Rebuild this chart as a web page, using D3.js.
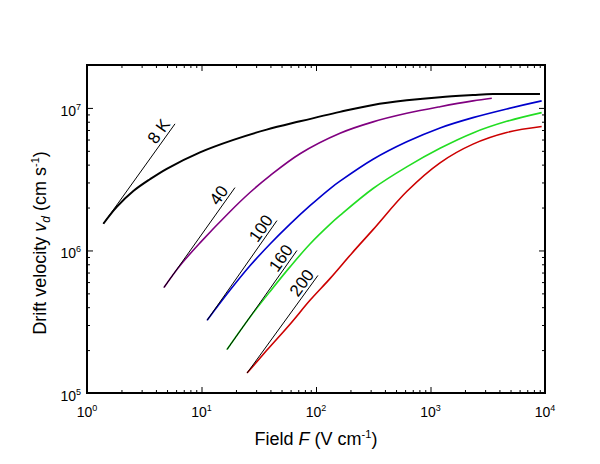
<!DOCTYPE html>
<html><head><meta charset="utf-8">
<script src="https://cdn.jsdelivr.net/npm/d3@7"></script>
<style>body{margin:0;background:#fff} text{font-family:Arial,"Liberation Sans",sans-serif;fill:#000}</style>
</head><body><svg id="c" width="600" height="464"></svg>
<script>
// ---- data ----
const seriesNames = ["8 K", "40", "100", "160", "200"];
const seriesColors = ["#000000", "#800080", "#0000cc", "#22dd22", "#cc0000"];

const field8 = [1.39, 1.82, 2.54, 3.55, 4.97, 9.7, 19.0, 37.1, 72.5, 162, 315, 620, 1211, 2350, 3515, 9040];
const vel8   = [1.54e6, 2.02e6, 2.61e6, 3.16e6, 3.74e6, 4.88e6, 5.97e6, 7.04e6, 8.05e6, 9.38e6, 1.05e7, 1.13e7, 1.19e7, 1.23e7, 1.25e7, 1.25e7];

const field40 = [4.7, 6.5, 9.7, 17.7, 26.5, 39.7, 72.5, 162, 315, 620, 1211, 2350, 3430];
const vel40   = [5.5e5, 7.85e5, 1.13e6, 1.87e6, 2.55e6, 3.35e6, 4.77e6, 6.64e6, 7.98e6, 9.16e6, 1.02e7, 1.12e7, 1.17e7];

const field100 = [11.2, 17.7, 26.5, 39.7, 59.3, 88.6, 133, 162, 315, 620, 1211, 2350, 4630, 9350];
const vel100   = [3.24e5, 5.25e5, 7.8e5, 1.11e6, 1.53e6, 2.06e6, 2.72e6, 3.06e6, 4.36e6, 5.78e6, 7.24e6, 8.55e6, 9.84e6, 1.12e7];

const field160 = [16.7, 26.5, 39.7, 59.3, 88.6, 133, 162, 315, 620, 1211, 2350, 4630, 9350];
const vel160   = [2.02e5, 3.4e5, 5.16e5, 7.67e5, 1.11e6, 1.53e6, 1.76e6, 2.72e6, 3.86e6, 5.21e6, 6.68e6, 8.05e6, 9.27e6];

const field200 = [25.0, 37.3, 59.3, 88.6, 133, 205, 315, 620, 1211, 2350, 4630, 9350];
const vel200   = [1.38e5, 2.0e5, 3.04e5, 4.47e5, 6.37e5, 9.53e5, 1.40e6, 2.59e6, 4.12e6, 5.57e6, 6.72e6, 7.4e6];

// ohmic (linear) guide lines: start and end
const ohmF0 = [1.39, 4.7, 11.2, 16.7, 25.0];
const ohmV0 = [1.54e6, 5.5e5, 3.24e5, 2.02e5, 1.38e5];
const ohmF1 = [5.87, 19.6, 45.6, 68.2, 104];
const ohmV1 = [7.73e6, 2.76e6, 1.62e6, 1.0e6, 6.68e5];

const xMajor = [1, 10, 100, 1000, 10000];
const xExp = ["0", "1", "2", "3", "4"];
const yMajor = [1e5, 1e6, 1e7];
const yExp = ["5", "6", "7"];

const fieldSets = [field8, field40, field100, field160, field200];
const velSets = [vel8, vel40, vel100, vel160, vel200];

// ---- chart ----
const svg = d3.select("#c");
const L = 87, R = 545, T = 65, B = 393;
const x = d3.scaleLog().domain([1, 1e4]).range([L, R]);
const y = d3.scaleLog().domain([1e5, 2e7]).range([B, T]);

const xMinor = [], yMinor = [];
[1, 10, 100, 1000].forEach(d => { for (let k = 2; k <= 9; k++) xMinor.push(d * k); });
[1e5, 1e6].forEach(d => { for (let k = 2; k <= 9; k++) yMinor.push(d * k); });

function ticks(gen, vals, size) {
  return g => g.call(gen.tickValues(vals).tickSize(size).tickFormat(""))
    .call(g => g.select(".domain").remove())
    .call(g => g.selectAll("line").attr("stroke", "#000").attr("stroke-width", 1));
}
svg.append("g").attr("transform", `translate(0,${B})`).call(ticks(d3.axisBottom(x), xMajor, -6));
svg.append("g").attr("transform", `translate(0,${B})`).call(ticks(d3.axisBottom(x), xMinor, -3));
svg.append("g").attr("transform", `translate(0,${T})`).call(ticks(d3.axisTop(x), xMajor, -6));
svg.append("g").attr("transform", `translate(0,${T})`).call(ticks(d3.axisTop(x), xMinor, -3));
svg.append("g").attr("transform", `translate(${L},0)`).call(ticks(d3.axisLeft(y), yMajor, -6));
svg.append("g").attr("transform", `translate(${L},0)`).call(ticks(d3.axisLeft(y), yMinor, -3));
svg.append("g").attr("transform", `translate(${R},0)`).call(ticks(d3.axisRight(y), yMajor, -6));
svg.append("g").attr("transform", `translate(${R},0)`).call(ticks(d3.axisRight(y), yMinor, -3));

svg.append("rect").attr("x", L).attr("y", T).attr("width", R - L).attr("height", B - T)
  .attr("fill", "none").attr("stroke", "#000").attr("stroke-width", 2);

// tick labels
xMajor.forEach((d, i) => {
  const t = svg.append("text").attr("x", x(d)).attr("y", B + 24).attr("text-anchor", "middle").attr("font-size", 14);
  t.append("tspan").text("10");
  t.append("tspan").attr("font-size", 9).attr("dy", -6).text(xExp[i]);
});
yMajor.forEach((d, i) => {
  const t = svg.append("text").attr("x", L - 6).attr("y", y(d) + 8).attr("text-anchor", "end").attr("font-size", 14);
  t.append("tspan").text("10");
  t.append("tspan").attr("font-size", 9).attr("dy", -6).text(yExp[i]);
});

// axis titles
const xt = svg.append("text").attr("x", (L + R) / 2).attr("y", 445).attr("text-anchor", "middle").attr("font-size", 18);
xt.append("tspan").text("Field ");
xt.append("tspan").attr("font-style", "italic").text("F");
xt.append("tspan").text(" (V cm");
xt.append("tspan").attr("font-size", 11).attr("dy", -7).text("-1");
xt.append("tspan").attr("dy", 7).text(")");

const yt = svg.append("text").attr("transform", "translate(46,243) rotate(-90)").attr("text-anchor", "middle").attr("font-size", 18);
yt.append("tspan").text("Drift velocity ");
yt.append("tspan").attr("font-style", "italic").text("v");
yt.append("tspan").attr("font-style", "italic").attr("font-size", 12).attr("dy", 4).text("d");
yt.append("tspan").attr("dy", -4).text(" (cm s");
yt.append("tspan").attr("font-size", 11).attr("dy", -7).text("-1");
yt.append("tspan").attr("dy", 7).text(")");

// curves
const line = d3.line().x(d => x(d[0])).y(d => y(d[1])).curve(d3.curveCatmullRom.alpha(0.5));
fieldSets.forEach((fs, i) => {
  const pts = fs.map((f, j) => [f, velSets[i][j]]);
  svg.append("path").datum(pts).attr("d", line).attr("fill", "none")
    .attr("stroke", seriesColors[i]).attr("stroke-width", i === 0 ? 2 : 1.6);
});

// ohmic guide lines and labels
seriesNames.forEach((name, i) => {
  const x0 = x(ohmF0[i]), y0 = y(ohmV0[i]), x1 = x(ohmF1[i]), y1 = y(ohmV1[i]);
  svg.append("line").attr("x1", x0).attr("y1", y0).attr("x2", x1).attr("y2", y1)
    .attr("stroke", "#000").attr("stroke-width", 1);
  const len = Math.hypot(x1 - x0, y1 - y0);
  const ux = (x1 - x0) / len, uy = (y1 - y0) / len;
  const px = uy, py = -ux;
  const bx = x1 - 15.5 * ux + 3 * px, by = y1 - 15.5 * uy + 3 * py;
  const ang = Math.atan2(uy, ux) * 180 / Math.PI;
  svg.append("text").attr("transform", `translate(${bx},${by}) rotate(${ang})`)
    .attr("text-anchor", "middle").attr("font-size", 17).text(name);
});
</script></body></html>
